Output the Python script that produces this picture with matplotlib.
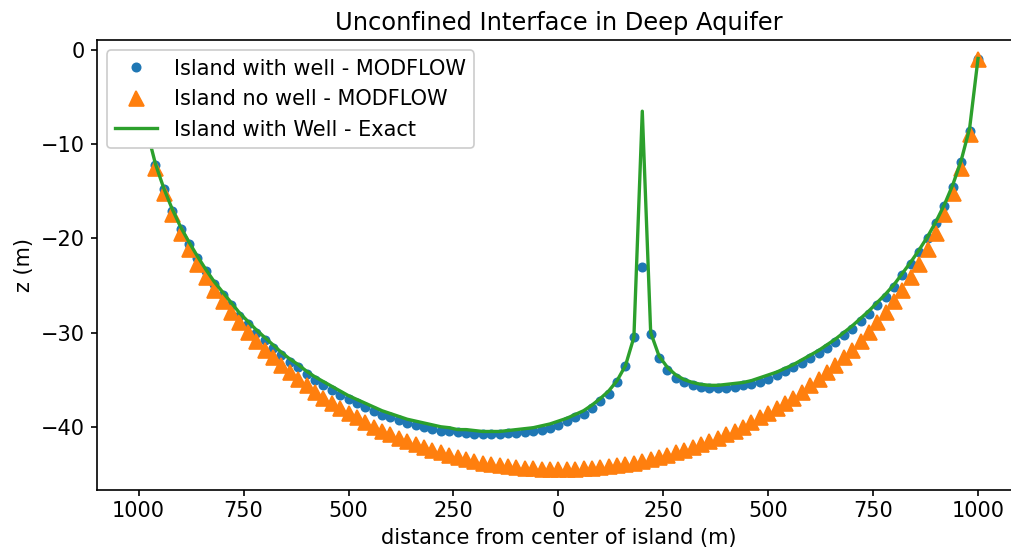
import matplotlib
matplotlib.use("Agg")
import matplotlib.pyplot as plt

# model cell centres, 20 m apart across the island
distance = list(range(-1000, 1001, 20))

# interface elevation (m), island with a pumping well at x = 200
with_well = [
    -1.0, -8.7, -12.2, -14.8, -17.1, -19.0, -20.6, -22.1, -23.5, -24.8,
    -26.0, -27.1, -28.2, -29.1, -30.0, -30.8, -31.6, -32.4, -33.1, -33.7,
    -34.4, -35.0, -35.6, -36.1, -36.6, -37.1, -37.5, -37.9, -38.3, -38.7,
    -39.0, -39.3, -39.6, -39.8, -40.0, -40.2, -40.4, -40.5, -40.6, -40.7,
    -40.8, -40.8, -40.8, -40.8, -40.7, -40.7, -40.6, -40.5, -40.3, -40.1,
    -39.8, -39.4, -39.0, -38.6, -38.0, -37.3, -36.5, -35.3, -33.6, -30.5,
    -23.0, -30.1, -32.7, -34.0, -34.8, -35.3, -35.6, -35.8, -35.9, -35.9,
    -35.9, -35.8, -35.6, -35.5, -35.2, -34.9, -34.5, -34.1, -33.7, -33.2,
    -32.7, -32.2, -31.6, -31.0, -30.3, -29.6, -28.8, -28.0, -27.1, -26.2,
    -25.2, -23.9, -22.7, -21.4, -20.0, -18.4, -16.6, -14.5, -11.9, -8.6,
    -1.0,
]

# interface elevation (m), island without the well
no_well = [
    -1.0, -8.9, -12.5, -15.2, -17.4, -19.4, -21.1, -22.7, -24.1, -25.5,
    -26.7, -27.8, -28.9, -29.9, -30.9, -31.8, -32.6, -33.4, -34.2, -34.9,
    -35.6, -36.3, -36.9, -37.5, -38.0, -38.5, -39.0, -39.5, -40.0, -40.4,
    -40.8, -41.2, -41.5, -41.8, -42.2, -42.5, -42.7, -43.0, -43.2, -43.4,
    -43.6, -43.8, -43.9, -44.1, -44.2, -44.3, -44.4, -44.4, -44.5, -44.5,
    -44.5, -44.5, -44.5, -44.4, -44.4, -44.3, -44.2, -44.1, -43.9, -43.8,
    -43.6, -43.4, -43.2, -43.0, -42.7, -42.5, -42.2, -41.8, -41.5, -41.2,
    -40.8, -40.4, -40.0, -39.5, -39.0, -38.5, -38.0, -37.5, -36.9, -36.3,
    -35.6, -34.9, -34.2, -33.4, -32.6, -31.8, -30.9, -29.9, -28.9, -27.8,
    -26.7, -25.5, -24.1, -22.7, -21.1, -19.4, -17.4, -15.2, -12.5, -8.9,
    -1.0,
]

# exact solution, island with well
exact = [
    -0.9, -8.6, -12.1, -14.7, -16.9, -18.8, -20.4, -21.9, -23.3, -24.6,
    -25.7, -26.8, -27.9, -28.8, -29.7, -30.5, -31.3, -32.1, -32.8, -33.4,
    -34.1, -34.7, -35.2, -35.7, -36.2, -36.7, -37.1, -37.5, -37.9, -38.3,
    -38.6, -38.9, -39.2, -39.4, -39.6, -39.8, -40.0, -40.1, -40.3, -40.3,
    -40.4, -40.5, -40.5, -40.5, -40.4, -40.3, -40.2, -40.1, -39.9, -39.7,
    -39.4, -39.1, -38.7, -38.3, -37.7, -37.0, -36.2, -35.1, -33.5, -30.5,
    -6.5, -30.0, -32.5, -33.7, -34.5, -35.0, -35.3, -35.5, -35.6, -35.6,
    -35.5, -35.4, -35.3, -35.1, -34.8, -34.5, -34.2, -33.8, -33.4, -32.9,
    -32.4, -31.9, -31.3, -30.7, -30.0, -29.3, -28.5, -27.7, -26.8, -25.9,
    -24.9, -23.7, -22.5, -21.2, -19.8, -18.2, -16.4, -14.3, -11.7, -8.3,
    -0.9,
]

xtick_pos = [-1000, -750, -500, -250, 0, 250, 500, 750, 1000]
xtick_lab = ["1000", "750", "500", "250", "0", "250", "500", "750", "1000"]

FS = 12.5
W, H, DPI = 1011, 557, 120
fig = plt.figure(figsize=(W / DPI, H / DPI), dpi=DPI)
# axes run a bit past the right edge of the figure, like the original
ax = fig.add_axes([96.7 / W, 67.5 / H, (1020 - 96.7) / W, (517 - 67.5) / H])

ax.plot(distance, with_well, ".", ms=10, color="C0", label="Island with well - MODFLOW")
ax.plot(distance, no_well, "^", ms=9, color="C1", label="Island no well - MODFLOW")
ax.plot(distance, exact, "-", lw=2, color="C2", label="Island with Well - Exact")

ax.set_xlim(-1100, 1100)
ax.set_ylim(-46.66, 1.06)
ax.set_xticks(xtick_pos)
ax.set_xticklabels(xtick_lab)
ax.tick_params(labelsize=FS, length=3.5, width=1.0)
for s in ax.spines.values():
    s.set_linewidth(1.0)
ax.set_xlabel("distance from center of island (m)", fontsize=FS)
ax.set_ylabel("z (m)", fontsize=FS)
ax.set_title("Unconfined Interface in Deep Aquifer", fontsize=14.5)
ax.legend(loc="upper left", fontsize=FS, framealpha=1.0)

fig.savefig("out.png", dpi=DPI)
